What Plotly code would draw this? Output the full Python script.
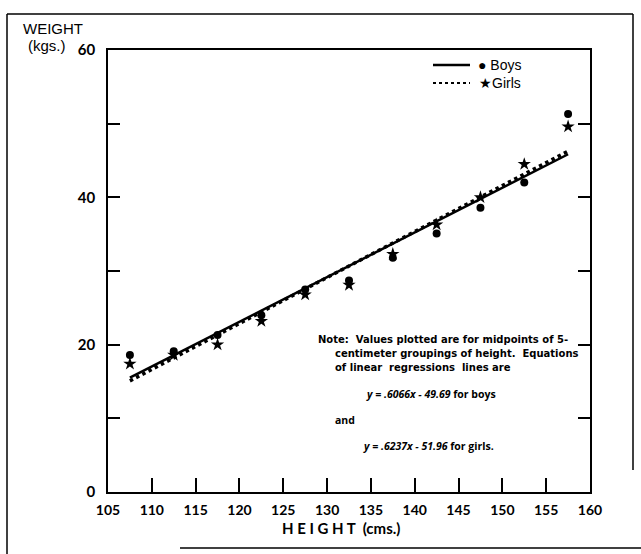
import plotly.graph_objects as go

# Midpoints of the 5-cm height groupings (cm)
heights = [107.5, 112.5, 117.5, 122.5, 127.5, 132.5, 137.5, 142.5, 147.5, 152.5, 157.5]
# Mean weights (kg)
boys_weight = [18.6, 19.1, 21.3, 24.0, 27.5, 28.7, 31.8, 35.1, 38.6, 42.0, 51.3]
girls_weight = [17.4, 18.6, 20.0, 23.2, 26.8, 28.1, 32.3, 36.3, 40.0, 44.5, 49.6]

# Linear regression coefficients (y = a*x + b)
boys_slope, boys_intercept = 0.6066, -49.69
girls_slope, girls_intercept = 0.6237, -51.96

x_ticks = list(range(105, 161, 5))
y_ticks = list(range(0, 61, 10))
y_tick_text = ["0", "", "20", "", "40", "", "60"]

W, H = 641, 554
L, R, T, B = 108, 590, 50, 492  # plot area in pixels


def px(x):
    return (x - L) / (R - L)


def py(y):
    return (B - y) / (B - T)


line_x = [heights[0], heights[-1]]
boys_line = [boys_slope * v + boys_intercept for v in line_x]
girls_line = [girls_slope * v + girls_intercept for v in line_x]

fig = go.Figure()
fig.add_trace(go.Scatter(x=line_x, y=girls_line, mode="lines",
                         line=dict(color="black", width=3.5, dash="dot"),
                         showlegend=False, hoverinfo="skip"))
fig.add_trace(go.Scatter(x=line_x, y=boys_line, mode="lines",
                         line=dict(color="black", width=2.5),
                         showlegend=False, hoverinfo="skip"))
fig.add_trace(go.Scatter(x=heights, y=girls_weight, mode="markers", name="Girls",
                         marker=dict(symbol="star", size=10, color="black"),
                         showlegend=False))
fig.add_trace(go.Scatter(x=heights, y=boys_weight, mode="markers", name="Boys",
                         marker=dict(symbol="circle", size=8, color="black"),
                         showlegend=False))

shapes = []
# outer frame
frame = [((7, 14), (7, 554)), ((7, 14), (633, 14)), ((633, 14), (633, 470)),
         ((180, 548), (641, 548))]
for (x0, y0), (x1, y1) in frame:
    shapes.append(dict(type="line", xref="paper", yref="paper",
                       x0=px(x0), y0=py(y0), x1=px(x1), y1=py(y1),
                       line=dict(color="black", width=1.5)))
# legend samples
shapes.append(dict(type="line", xref="paper", yref="paper",
                   x0=px(433), x1=px(470), y0=py(65), y1=py(65),
                   line=dict(color="black", width=2.5)))
shapes.append(dict(type="line", xref="paper", yref="paper",
                   x0=px(433), x1=px(470), y0=py(83), y1=py(83),
                   line=dict(color="black", width=2, dash="dot")))

note_font = dict(family="DejaVu Sans", size=10, color="black", weight="bold")
eq_font = dict(family="Open Sans", size=10.5, color="black", weight="bold")
label_font = dict(family="Liberation Sans", size=15, color="black")
annotations = [
    dict(text="WEIGHT", x=px(21), y=py(29), xanchor="left", yanchor="middle", font=label_font),
    dict(text="(kgs.)", x=px(26), y=py(45), xanchor="left", yanchor="middle", font=label_font),
    dict(text="H E I G H T  (cms.)", x=px(341), y=py(528), xanchor="center", yanchor="middle",
         font=dict(family="Lato", size=15, color="black", weight="bold")),
    dict(text="\u25cf Boys", x=px(476), y=py(65), xanchor="left", yanchor="middle",
         font=dict(family="Liberation Sans", size=14, color="black")),
    dict(text="\u2605Girls", x=px(477), y=py(83), xanchor="left", yanchor="middle",
         font=dict(family="Liberation Sans", size=14, color="black")),
    dict(text="Note:  Values plotted are for midpoints of 5-", x=px(316), y=py(339),
         xanchor="left", yanchor="middle", font=note_font),
    dict(text="centimeter groupings of height.  Equations", x=px(333), y=py(353),
         xanchor="left", yanchor="middle", font=note_font),
    dict(text="of linear  regressions  lines are", x=px(333), y=py(367),
         xanchor="left", yanchor="middle", font=note_font),
    dict(text="<i>y = .6066x - 49.69</i> for boys", x=px(364), y=py(394),
         xanchor="left", yanchor="middle", font=eq_font),
    dict(text="and", x=px(333), y=py(420),
         xanchor="left", yanchor="middle", font=eq_font),
    dict(text="<i>y = .6237x - 51.96</i> for girls.", x=px(361), y=py(446),
         xanchor="left", yanchor="middle", font=eq_font),
]
for a in annotations:
    a.update(xref="paper", yref="paper", showarrow=False)

fig.update_layout(
    width=W, height=H,
    margin=dict(l=L, r=W - R, t=T, b=H - B),
    paper_bgcolor="white", plot_bgcolor="white",
    shapes=shapes, annotations=annotations,
    showlegend=False,
)
fig.update_xaxes(range=[105, 160], tickvals=x_ticks, ticks="inside", ticklen=14,
                 tickwidth=1.5, tickcolor="black", showline=True, linecolor="black",
                 linewidth=1.5, mirror=True, showgrid=False, zeroline=False,
                 ticklabelstandoff=4,
                 tickfont=dict(family="Lato", size=14, color="black", weight="bold"))
fig.update_yaxes(range=[0, 60], tickvals=y_ticks, ticktext=y_tick_text, ticks="inside",
                 ticklen=12, tickwidth=1.5, tickcolor="black", showline=True,
                 linecolor="black", linewidth=1.5, mirror="ticks", showgrid=False,
                 zeroline=False, ticklabelstandoff=8,
                 tickfont=dict(family="Lato", size=15, color="black", weight="bold"))

fig.write_html("out.html")
